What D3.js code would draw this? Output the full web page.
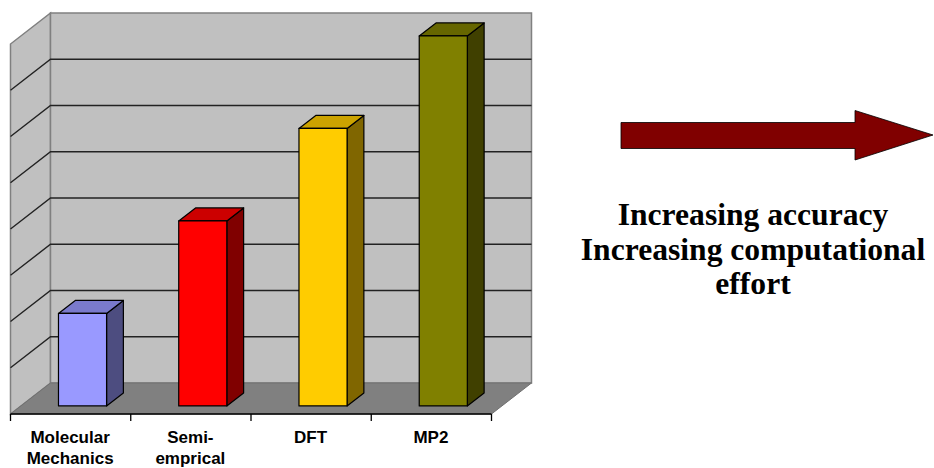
<!DOCTYPE html>
<html>
<head>
<meta charset="utf-8">
<script src="https://cdn.jsdelivr.net/npm/d3@7"></script>
<style>
  html, body { margin: 0; padding: 0; background: #ffffff; }
  svg { display: block; }
</style>
</head>
<body>
<svg id="chart" width="934" height="468"></svg>
<script>
// Methods compared, with their relative cost/accuracy rank
const categories = ["Molecular Mechanics", "Semi-emprical", "DFT", "MP2"];
const categoryLines = [["Molecular", "Mechanics"], ["Semi-", "emprical"], ["DFT"], ["MP2"]];
const values = [2, 4, 6, 8];
const gridValues = [1, 2, 3, 4, 5, 6, 7];
const barColors = ["#9999FF", "#FF0000", "#FFCC00", "#808000"];
const noteLines = ["Increasing accuracy", "Increasing computational", "effort"];

const svg = d3.select("#chart");

// Front plane scales plus a depth vector for the oblique 3D look
const x = d3.scaleBand().domain(categories).range([10.5, 491.5]);
const y = d3.scaleLinear().domain([0, 8]).range([414, 44]);
const depth = { dx: 40, dy: -31 };
const proj = (px, v, z) => [px + depth.dx * z, y(v) + depth.dy * z];
const poly = pts => pts.map(p => p.join(",")).join(" ");
const shade = (c, k) => { const b = d3.rgb(c); return d3.rgb(b.r * k, b.g * k, b.b * k).toString(); };

const [x0, x1] = x.range();
const vMax = y.domain()[1];

const walls = svg.append("g");

// side wall
walls.append("polygon")
  .attr("points", poly([proj(x0, 0, 0), proj(x0, vMax, 0), proj(x0, vMax, 1), proj(x0, 0, 1)]))
  .attr("fill", "#C0C0C0").attr("stroke", "#808080").attr("stroke-width", 1.5);

// back wall
walls.append("polygon")
  .attr("points", poly([proj(x0, 0, 1), proj(x0, vMax, 1), proj(x1, vMax, 1), proj(x1, 0, 1)]))
  .attr("fill", "#C0C0C0").attr("stroke", "#808080").attr("stroke-width", 1.5);

// floor
walls.append("polygon")
  .attr("points", poly([proj(x0, 0, 0), proj(x1, 0, 0), proj(x1, 0, 1), proj(x0, 0, 1)]))
  .attr("fill", "#808080").attr("stroke", "#707070").attr("stroke-width", 1);

// gridlines across the side wall and the back wall
const grid = walls.append("g").attr("stroke", "#222").attr("stroke-width", 1.4).attr("fill", "none");
gridValues.forEach(v => {
  grid.append("polyline")
    .attr("points", poly([proj(x0, v, 0), proj(x0, v, 1), proj(x1, v, 1)]));
});

// category axis along the front edge of the floor
const axisY = y(0);
const axis = svg.append("g").attr("stroke", "#000").attr("stroke-width", 1.3);
axis.append("line").attr("x1", x0).attr("x2", x1).attr("y1", axisY).attr("y2", axisY);
const tickXs = categories.map(c => x(c)).concat([x1]);
axis.selectAll("line.tick").data(tickXs).join("line")
  .attr("class", "tick")
  .attr("x1", d => d).attr("x2", d => d)
  .attr("y1", axisY).attr("y2", axisY + 7);

// bars: front face, top (80% shade) and right side (50% shade)
const barW = x.bandwidth() * 0.4;
const z0 = 0.26, z1 = 0.68;
const bars = svg.append("g").attr("stroke", "#000").attr("stroke-width", 1.2).attr("stroke-linejoin", "round");
categories.forEach((c, i) => {
  const v = values[i];
  const cx = x(c) + x.bandwidth() / 2 + 1.5;
  const L = cx - barW / 2, R = cx + barW / 2;
  const g = bars.append("g");
  g.append("polygon")
    .attr("points", poly([proj(R, 0, z0), proj(R, v, z0), proj(R, v, z1), proj(R, 0, z1)]))
    .attr("fill", shade(barColors[i], 0.5));
  g.append("polygon")
    .attr("points", poly([proj(L, v, z0), proj(R, v, z0), proj(R, v, z1), proj(L, v, z1)]))
    .attr("fill", shade(barColors[i], 0.8));
  g.append("polygon")
    .attr("points", poly([proj(L, 0, z0), proj(L, v, z0), proj(R, v, z0), proj(R, 0, z0)]))
    .attr("fill", barColors[i]);
});

// category labels
const labels = svg.append("g")
  .attr("font-family", "'Liberation Sans', Arial, sans-serif")
  .attr("font-weight", "bold").attr("font-size", 17)
  .attr("text-anchor", "middle").attr("fill", "#000");
categories.forEach((c, i) => {
  const cx = x(c) + x.bandwidth() / 2 - 0.5;
  const t = labels.append("text");
  categoryLines[i].forEach((line, k) => {
    t.append("tspan").attr("x", cx).attr("y", 443 + k * 21).text(line);
  });
});

// arrow pointing right
svg.append("polygon")
  .attr("points", poly([[621, 122.5], [855, 122.5], [855, 110.5], [933, 135], [855, 160], [855, 148.5], [621, 148.5]]))
  .attr("fill", "#800000").attr("stroke", "#000").attr("stroke-width", 0.8);

// annotation
const note = svg.append("text")
  .attr("font-family", "'Liberation Serif', 'Times New Roman', serif")
  .attr("font-weight", "bold").attr("font-size", 31.6)
  .attr("text-anchor", "middle").attr("fill", "#000");
noteLines.forEach((line, k) => {
  note.append("tspan").attr("x", 753).attr("y", 225 + k * 34.5).text(line);
});
</script>
</body>
</html>
